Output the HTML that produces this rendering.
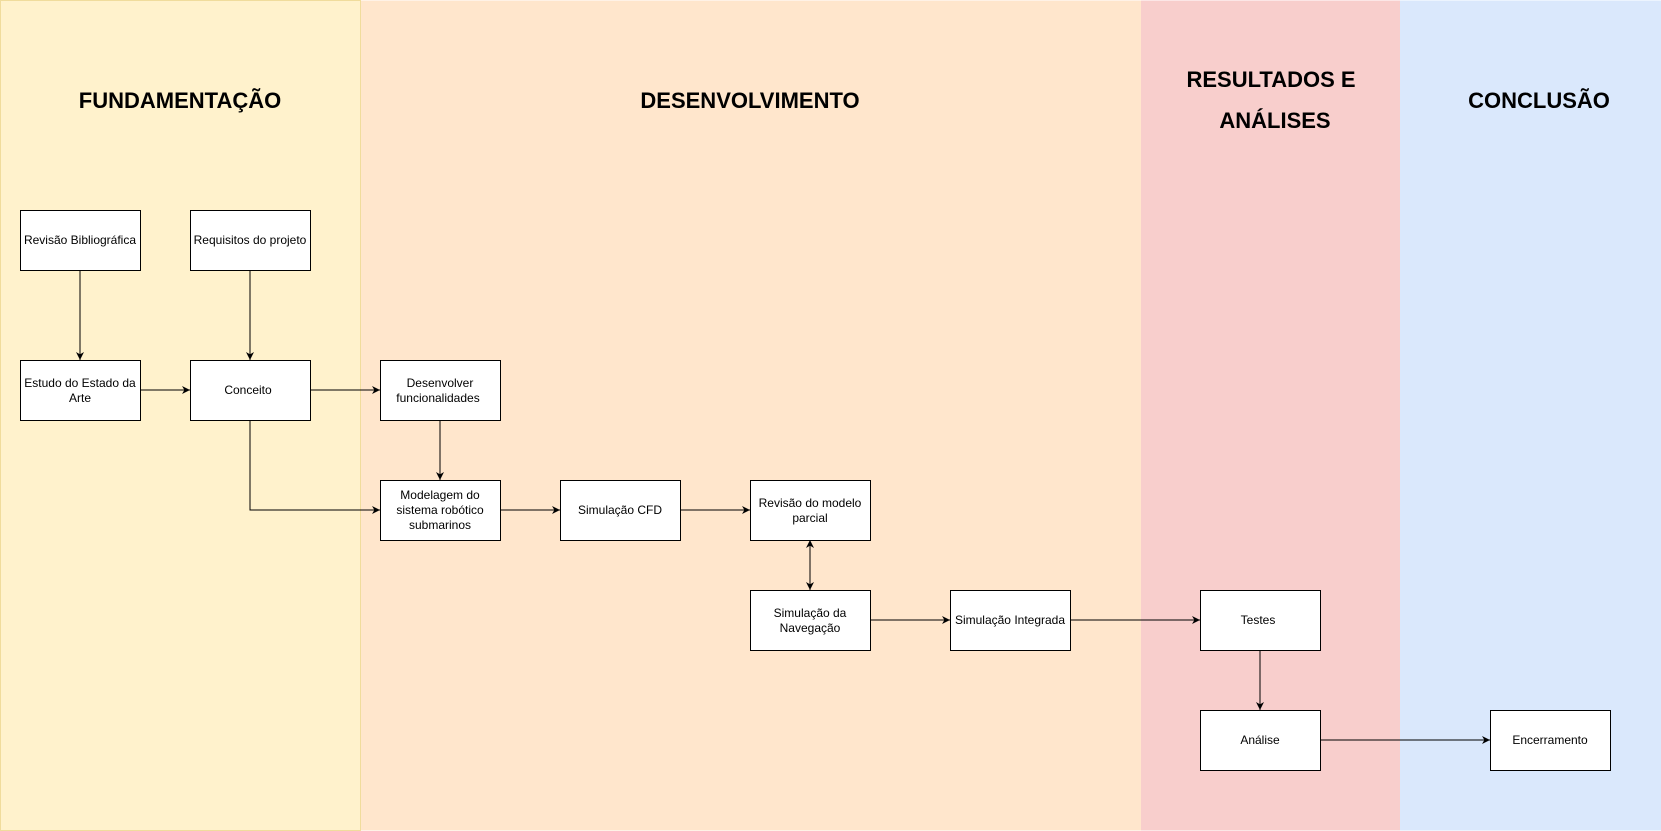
<!DOCTYPE html>
<html><head><meta charset="utf-8"><style>
html,body{margin:0;padding:0;background:#fff}
svg{display:block}
text{font-family:"Liberation Sans",Arial,sans-serif}
.t{font-size:22px;font-weight:bold;fill:#000;text-anchor:middle}
.b{font-size:12px;fill:#000;text-anchor:middle}
rect.n{fill:#fff;stroke:#000;stroke-width:1}
line,polyline{stroke:#000;stroke-width:1;fill:none}
</style></head><body>
<svg width="1661" height="831" viewBox="0 0 1661 831" xmlns="http://www.w3.org/2000/svg">
<defs>
<marker id="a" viewBox="0 0 10 10" refX="10" refY="5" markerWidth="8" markerHeight="8" orient="auto-start-reverse" markerUnits="userSpaceOnUse">
<path d="M0,0 L10,5 L0,10 L3,5 z" fill="#000"/></marker>
</defs>
<rect x="0.5" y="0.5" width="360" height="830" fill="#fff2cc" stroke="#f0dc9c"/>
<rect x="361" y="0.5" width="780" height="830" fill="#ffe6cc"/>
<rect x="1141" y="0.5" width="259" height="830" fill="#f8cecc"/>
<rect x="1400" y="0.5" width="261" height="830" fill="#dae8fc"/>

<text class="t" x="180" y="108">FUNDAMENTAÇÃO</text>
<text class="t" x="750" y="108">DESENVOLVIMENTO</text>
<text class="t" x="1271" y="87">RESULTADOS E</text>
<text class="t" x="1275" y="128">ANÁLISES</text>
<text class="t" x="1539" y="108">CONCLUSÃO</text>

<line x1="80" y1="270" x2="80" y2="360" marker-end="url(#a)"/>
<line x1="250" y1="270" x2="250" y2="360" marker-end="url(#a)"/>
<line x1="140" y1="390" x2="190" y2="390" marker-end="url(#a)"/>
<line x1="310" y1="390" x2="380" y2="390" marker-end="url(#a)"/>
<line x1="440" y1="420" x2="440" y2="480" marker-end="url(#a)"/>
<polyline points="250,420 250,510 380,510" marker-end="url(#a)"/>
<line x1="500" y1="510" x2="560" y2="510" marker-end="url(#a)"/>
<line x1="680" y1="510" x2="750" y2="510" marker-end="url(#a)"/>
<line x1="810" y1="540" x2="810" y2="590" marker-start="url(#a)" marker-end="url(#a)"/>
<line x1="870" y1="620" x2="950" y2="620" marker-end="url(#a)"/>
<line x1="1070" y1="620" x2="1200" y2="620" marker-end="url(#a)"/>
<line x1="1260" y1="650" x2="1260" y2="710" marker-end="url(#a)"/>
<line x1="1320" y1="740" x2="1490" y2="740" marker-end="url(#a)"/>

<rect class="n" x="20.5" y="210.5" width="120" height="60"/>
<text class="b" x="80" y="244">Revisão Bibliográfica</text>
<rect class="n" x="190.5" y="210.5" width="120" height="60"/>
<text class="b" x="250" y="244">Requisitos do projeto</text>
<rect class="n" x="20.5" y="360.5" width="120" height="60"/>
<text class="b" x="80" y="387">Estudo do Estado da</text>
<text class="b" x="80" y="402">Arte</text>
<rect class="n" x="190.5" y="360.5" width="120" height="60"/>
<text class="b" x="248" y="394">Conceito</text>
<rect class="n" x="380.5" y="360.5" width="120" height="60"/>
<text class="b" x="440" y="387">Desenvolver</text>
<text class="b" x="438" y="402">funcionalidades</text>
<rect class="n" x="380.5" y="480.5" width="120" height="60"/>
<text class="b" x="440" y="499">Modelagem do</text>
<text class="b" x="440" y="514">sistema robótico</text>
<text class="b" x="440" y="529">submarinos</text>
<rect class="n" x="560.5" y="480.5" width="120" height="60"/>
<text class="b" x="620" y="514">Simulação CFD</text>
<rect class="n" x="750.5" y="480.5" width="120" height="60"/>
<text class="b" x="810" y="507">Revisão do modelo</text>
<text class="b" x="810" y="522">parcial</text>
<rect class="n" x="750.5" y="590.5" width="120" height="60"/>
<text class="b" x="810" y="617">Simulação da</text>
<text class="b" x="810" y="632">Navegação</text>
<rect class="n" x="950.5" y="590.5" width="120" height="60"/>
<text class="b" x="1010" y="624">Simulação Integrada</text>
<rect class="n" x="1200.5" y="590.5" width="120" height="60"/>
<text class="b" x="1258" y="624">Testes</text>
<rect class="n" x="1200.5" y="710.5" width="120" height="60"/>
<text class="b" x="1260" y="744">Análise</text>
<rect class="n" x="1490.5" y="710.5" width="120" height="60"/>
<text class="b" x="1550" y="744">Encerramento</text>
</svg>
</body></html>
